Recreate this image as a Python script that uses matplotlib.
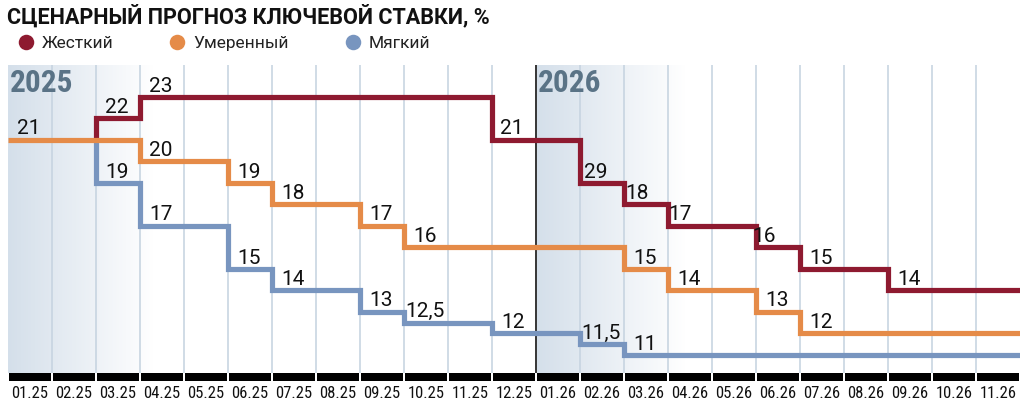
import numpy as np
import matplotlib
matplotlib.use("Agg")
import matplotlib.pyplot as plt
from matplotlib.lines import Line2D
from matplotlib.patches import Rectangle
import matplotlib.transforms as mtransforms

# ---------------- data ----------------
months = ["01.25", "02.25", "03.25", "04.25", "05.25", "06.25", "07.25", "08.25",
          "09.25", "10.25", "11.25", "12.25", "01.26", "02.26", "03.26", "04.26",
          "05.26", "06.26", "07.26", "08.26", "09.26", "10.26", "11.26"]

hard_start_value = 21
hard_starts = [2, 3, 11, 13, 14, 15, 17, 18, 20]
hard_values = [22, 23, 21, 19, 18, 17, 16, 15, 14]
hard_labels = ["22", "23", "21", "29", "18", "17", "16", "15", "14"]

mod_start_value = None
mod_starts = [0, 3, 5, 6, 8, 9, 14, 15, 17, 18]
mod_values = [21, 20, 19, 18, 17, 16, 15, 14, 13, 12]
mod_labels = ["21", "20", "19", "18", "17", "16", "15", "14", "13", "12"]

soft_start_value = 21
soft_starts = [2, 3, 5, 6, 8, 9, 11, 13, 14]
soft_values = [19, 17, 15, 14, 13, 12.5, 12, 11.5, 11]
soft_labels = ["19", "17", "15", "14", "13", "12,5", "12", "11,5", "11"]

series_names = ["Жесткий", "Умеренный", "Мягкий"]
title = "СЦЕНАРНЫЙ ПРОГНОЗ КЛЮЧЕВОЙ СТАВКИ, %"
years = ["2025", "2026"]

# ---------------- style ----------------
RED = "#8e1a30"
ORANGE = "#e58b48"
BLUE = "#7895bf"
GRID = "#c6d4e0"
YEARC = "#5a7386"
SHADE = np.array([0.835, 0.875, 0.92])
COND = ["Roboto Condensed", "Liberation Sans Narrow", "DejaVu Sans"]

W, H = 1026, 412
fig = plt.figure(figsize=(W / 100, H / 100), dpi=100)
px = lambda v: v * 72 / 100  # pixels -> points

ax_left, ax_right, ax_top, ax_bot = 8, 1020, 65, 373
ax = fig.add_axes([ax_left / W, 1 - ax_bot / H, (ax_right - ax_left) / W, (ax_bot - ax_top) / H])
n = len(months)
y_per_px = 1 / 21.5
y0, y1 = 23 - (ax_bot - 97) * y_per_px, 23 + (97 - ax_top) * y_per_px
for s in ax.spines.values():
    s.set_visible(False)
ax.set_yticks([])

# gradient shading for year starts
grad = np.zeros((2, 256, 4))
grad[..., :3] = SHADE
grad[..., 3] = np.linspace(1, 0, 256)
ax.imshow(grad, extent=(0, 3.3, y0, y1), aspect="auto", zorder=0, interpolation="bilinear")
ax.imshow(grad, extent=(12, 15.4, y0, y1), aspect="auto", zorder=0, interpolation="bilinear")
ax.set_xlim(0, n)
ax.set_ylim(y0, y1)

# grid lines
for i in range(1, n):
    if i == 12:
        ax.axvline(i, color="#3a3a3a", lw=px(2), zorder=1)
    else:
        ax.axvline(i, color=GRID, lw=px(1.6), zorder=1)

# step lines
def draw(starts, values, start_value, color, z):
    xs = list(starts) + [n]
    ys = list(values) + [values[-1]]
    if start_value is not None:
        xs = [starts[0]] + xs
        ys = [start_value] + ys
    ax.plot(xs, ys, drawstyle="steps-post", color=color, lw=px(5.2),
            solid_joinstyle="miter", solid_capstyle="butt", zorder=z)

draw(soft_starts, soft_values, soft_start_value, BLUE, 3)
draw(hard_starts, hard_values, hard_start_value, RED, 4)
draw(mod_starts, mod_values, mod_start_value, ORANGE, 5)

# value labels
lab_font = dict(family=["Roboto", "DejaVu Sans"], fontsize=15, color="#111111")
hard_nudge = {3: -5, 4: -8, 5: -9, 6: -13, 2: -1}

def labels(starts, values, texts, nudge=None):
    for k, (s, v, t) in enumerate(zip(starts, values, texts)):
        dx = (nudge or {}).get(k, 0)
        ax.annotate(t, (s + 0.48, v), xytext=(px(dx), px(5.5)), textcoords="offset points",
                    ha="center", va="baseline", zorder=6, **lab_font)

labels(hard_starts, hard_values, hard_labels, hard_nudge)
labels(mod_starts, mod_values, mod_labels)
labels(soft_starts, soft_values, soft_labels)

# bottom black bar segments
blend = mtransforms.blended_transform_factory(ax.transData, ax.transAxes)
bh = 8 / (ax_bot - ax_top)
gap = 0.012
for i in range(n):
    ax.add_patch(Rectangle((i + gap, -bh), 1 - 2 * gap, bh, transform=blend,
                           facecolor="black", edgecolor="none", clip_on=False, zorder=5))

ax.set_xticks(np.arange(n) + 0.5)
ax.set_xticklabels(months, family=COND, fontstretch="condensed", fontsize=12, color="#111111")
ax.tick_params(axis="x", length=0, pad=px(13))

# year labels
ybase = (ax_bot - 92) / (ax_bot - ax_top)
yfont = dict(family=COND, fontstretch="condensed", fontweight="bold", fontsize=22.5,
             color=YEARC, va="baseline", ha="left", zorder=6)
ax.text(0 + 1.5 / 44, ybase, years[0], transform=blend, **yfont)
ax.text(12 + 1.5 / 44, ybase, years[1], transform=blend, **yfont)

# title
fig.text(7 / W, 1 - 23 / H, title, family=["Roboto", "DejaVu Sans"], fontweight="bold",
         fontsize=15.6, color="#111111", va="baseline", ha="left")

# legend
handles = [Line2D([], [], marker="o", ls="none", markersize=px(15.5), markerfacecolor=c,
                  markeredgecolor="none") for c in (RED, ORANGE, BLUE)]
fs = 12.5
fspx = fs * 100 / 72
fig.legend(handles, series_names, loc="center left", bbox_to_anchor=(17 / W, 1 - 43 / H),
           ncol=3, frameon=False, borderpad=0, borderaxespad=0, handlelength=1.0,
           handletextpad=7.5 / fspx, columnspacing=55 / fspx,
           prop=dict(family=["Roboto", "DejaVu Sans"], size=fs), labelcolor="#222222")

fig.savefig("out.png", dpi=100)
